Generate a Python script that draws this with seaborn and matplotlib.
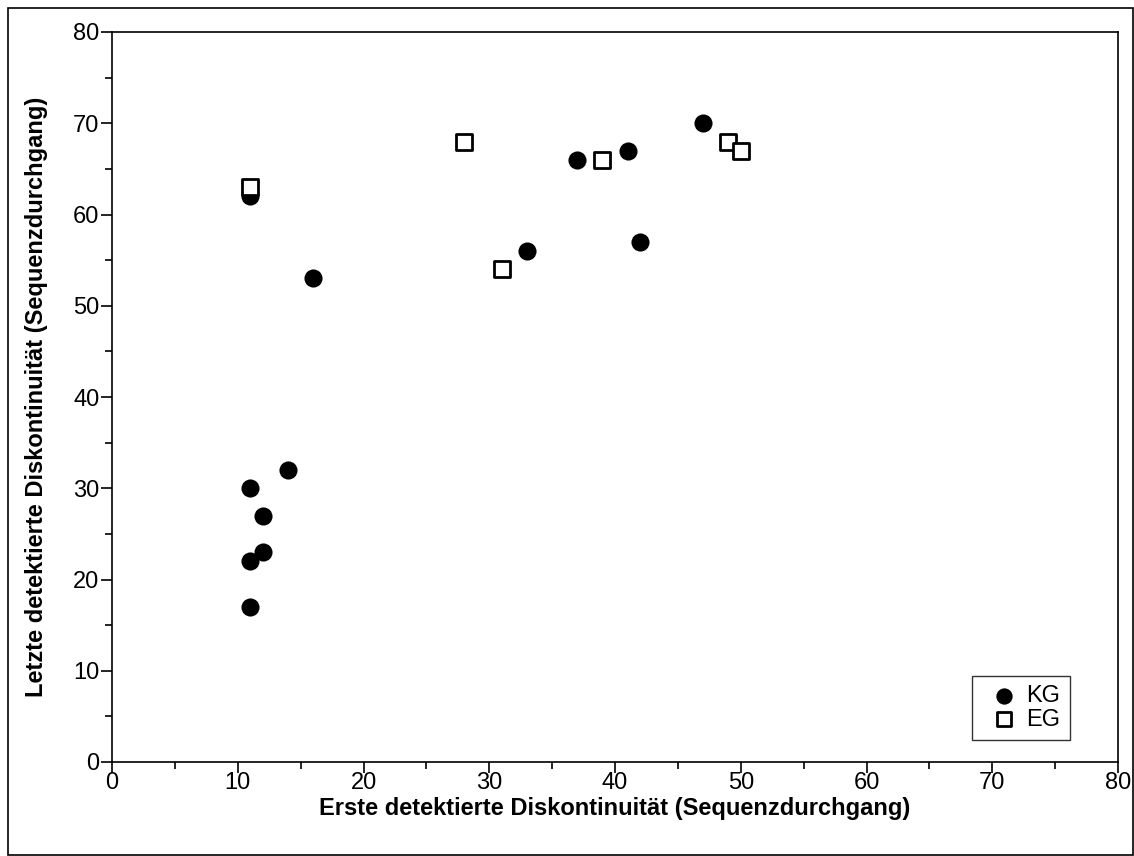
import matplotlib
matplotlib.use("Agg")
import matplotlib.pyplot as plt
import seaborn as sns
import pandas as pd
from matplotlib.patches import Rectangle
from matplotlib.ticker import MultipleLocator

kg_x = [11, 16, 11, 14, 12, 12, 11, 11, 33, 37, 41, 42, 47]
kg_y = [62, 53, 30, 32, 27, 23, 22, 17, 56, 66, 67, 57, 70]
eg_x = [11, 28, 31, 39, 49, 50]
eg_y = [63, 68, 54, 66, 68, 67]

df = pd.DataFrame({
    "x": kg_x + eg_x,
    "y": kg_y + eg_y,
    "Gruppe": ["KG"] * len(kg_x) + ["EG"] * len(eg_x),
})

sns.set_style("ticks")
plt.rcParams["font.family"] = ["Liberation Sans", "DejaVu Sans"]
plt.rcParams["text.color"] = "black"
plt.rcParams["axes.labelcolor"] = "black"
plt.rcParams["xtick.color"] = "black"
plt.rcParams["ytick.color"] = "black"

fig = plt.figure(figsize=(11.34, 8.56), dpi=100)
ax = fig.add_axes([112 / 1134, 1 - 762 / 856, (1118 - 112) / 1134, (762 - 32) / 856])

sns.scatterplot(data=df[df.Gruppe == "KG"], x="x", y="y", ax=ax, marker="o",
                s=170, color="black", edgecolor="black", linewidth=0, label="KG", zorder=3)
sns.scatterplot(data=df[df.Gruppe == "EG"], x="x", y="y", ax=ax, marker="s",
                s=125, facecolor="white", edgecolor="black", linewidth=2.0, label="EG", zorder=4)

ax.set_xlim(0, 80)
ax.set_ylim(0, 80)
ax.xaxis.set_major_locator(MultipleLocator(10))
ax.yaxis.set_major_locator(MultipleLocator(10))
ax.xaxis.set_minor_locator(MultipleLocator(5))
ax.yaxis.set_minor_locator(MultipleLocator(5))
ax.tick_params(axis="both", which="major", direction="out", length=8, width=1.2,
               labelsize=17, color="black", labelcolor="black", pad=1)
ax.tick_params(axis="x", which="major", pad=-1)
ax.tick_params(axis="both", which="minor", direction="out", length=5, width=1.2, color="black")
for sp in ax.spines.values():
    sp.set_visible(True)
    sp.set_linewidth(1.2)
    sp.set_color("black")

ax.set_xlabel("Erste detektierte Diskontinuität (Sequenzdurchgang)", fontsize=17,
              fontweight="bold", labelpad=2, color="black")
ax.set_ylabel("Letzte detektierte Diskontinuität (Sequenzdurchgang)", fontsize=17,
              fontweight="bold", labelpad=18, color="black")

leg = ax.legend(loc="lower right", bbox_to_anchor=(0.952, 0.03), frameon=True, fancybox=False,
                edgecolor="black", fontsize=17, handletextpad=0.0, borderpad=0.4,
                labelspacing=0.05, handlelength=1.9, markerscale=0.9, borderaxespad=0)
leg.get_frame().set_linewidth(1.0)
for t in leg.get_texts():
    t.set_color("black")

fig.patches.append(Rectangle((8 / 1134, 1 / 856), 1 - 9 / 1134, 1 - 9 / 856, transform=fig.transFigure,
                             fill=False, edgecolor="black", linewidth=1.2))

fig.savefig("out.png", dpi=100)
